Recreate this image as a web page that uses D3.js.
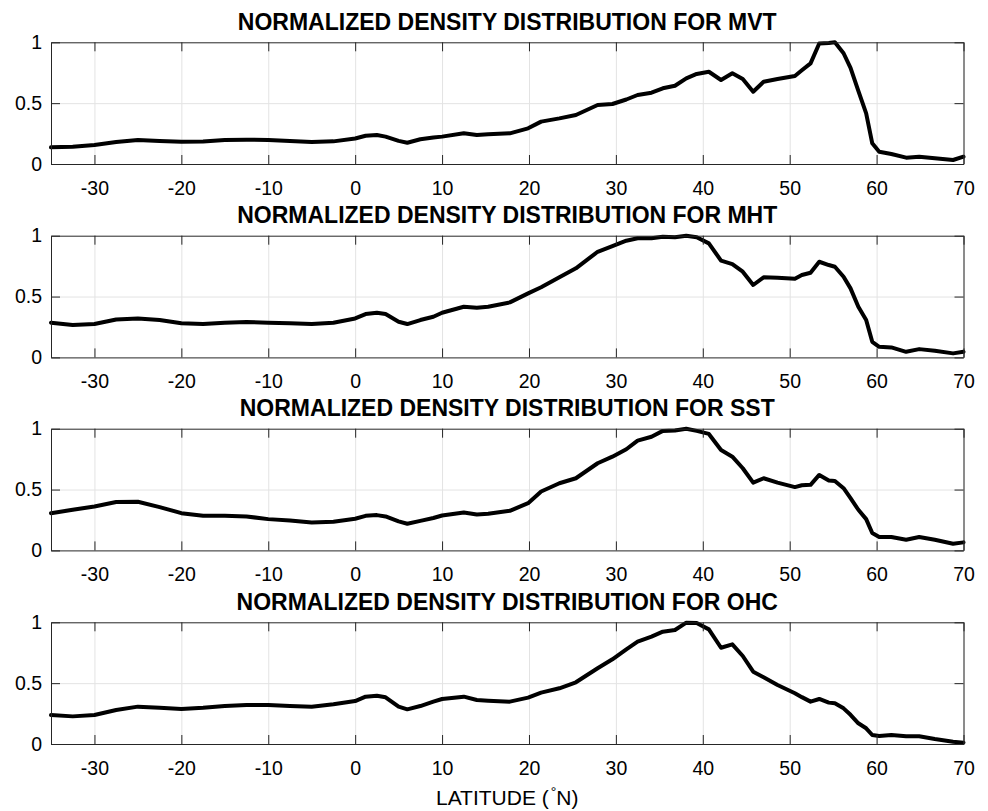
<!DOCTYPE html>
<html>
<head>
<meta charset="utf-8">
<script src="https://cdn.jsdelivr.net/npm/d3@7"></script>
<style>
  html, body { margin: 0; padding: 0; background: #fff; }
  svg { display: block; font-family: "Liberation Sans", Arial, Helvetica, sans-serif; }
</style>
</head>
<body>
<svg id="chart" width="988" height="811"></svg>
<script>
// ---- data ----
const latitude = [-35, -32.5, -30, -27.5, -25, -22.5, -20, -17.5, -15, -12.5, -10, -7.5, -5, -2.5, 0,
  1.2, 2.5, 3.5, 5, 6, 7.5, 9, 10, 12.5, 14, 15.3, 17.8, 19.9, 21.4, 23.5, 25.4, 27.9, 29.6, 31.2, 32.5,
  34.1, 35.4, 36.8, 38.1, 39.3, 40.7, 42.1, 43.4, 44.6, 45.8, 47.0, 48.6, 50.6, 51.4, 52.4, 53.4, 54.5,
  55.2, 56.2, 57.0, 57.9, 58.8, 59.5, 60.3, 61.7, 63.4, 64.9, 66.7, 68.8, 70];

const mvt = [.137, .142, .156, .18, .197, .19, .183, .185, .197, .2, .197, .19, .181, .186, .21,
  .232, .238, .225, .19, .175, .203, .218, .225, .252, .238, .244, .252, .293, .348, .375, .403, .485, .493, .53, .567,
  .586, .622, .643, .704, .74, .758, .69, .745, .698, .594, .676, .698, .723, .77, .827, .99, .995,
  1.0, .91, .79, .6, .416, .17, .1, .082, .052, .06, .047, .033, .06];

const mht = [.285, .266, .274, .312, .32, .307, .28, .274, .285, .29, .285, .28, .274, .285, .32,
  .356, .367, .356, .293, .274, .307, .334, .367, .416, .408, .416, .452, .526, .576, .658, .732, .868, .915, .959, .979,
  .979, .992, .987, 1.0, .987, .937, .795, .767, .704, .595, .658, .655, .647, .677, .696, .786, .759,
  .745, .663, .567, .416, .307, .128, .087, .082, .046, .068, .055, .033, .046];

const sst = [.306, .334, .361, .397, .40, .356, .306, .284, .284, .279, .257, .246, .23, .235, .26,
  .284, .29, .279, .238, .219, .243, .266, .287, .311, .295, .301, .325, .388, .484, .552, .593, .716, .77, .831, .902,
  .934, .982, .985, 1.0, .982, .957, .825, .77, .675, .557, .593, .557, .52, .535, .539, .62, .574,
  .571, .511, .43, .334, .257, .143, .11, .11, .087, .11, .087, .055, .066];

const ohc = [.238, .227, .238, .279, .307, .298, .288, .298, .312, .32, .32, .312, .307, .326, .353,
  .389, .397, .384, .307, .285, .312, .348, .37, .389, .362, .356, .348, .381, .422, .458, .507, .622, .696, .778, .841,
  .882, .923, .937, .997, .995, .942, .791, .819, .723, .594, .548, .485, .417, .385, .348, .37, .34,
  .334, .293, .24, .17, .129, .074, .066, .074, .063, .063, .041, .019, .011];

const seriesNames = ["MVT", "MHT", "SST", "OHC"];
const seriesValues = [mvt, mht, sst, ohc];
const xTicks = [-30, -20, -10, 0, 10, 20, 30, 40, 50, 60, 70];
const xTickLabels = ["-30", "-20", "-10", "0", "10", "20", "30", "40", "50", "60", "70"];
const yTicks = [0, 0.5, 1];
const yTickLabels = ["0", "0.5", "1"];
const titlePrefix = "NORMALIZED DENSITY DISTRIBUTION FOR ";
const xLabelMain = "LATITUDE (";
const xLabelDeg = "°";
const xLabelEnd = "N)";

// ---- layout ----
const svg = d3.select("#chart");
const left = 51, right = 963.5;
const panelTops = [42.3, 235.7, 428.7, 622.3];
const ph = 121.7;
const axisColor = "#262626";
const gridColor = "#e3e3e3";
const tickFont = 19.5;

const x = d3.scaleLinear().domain([-35, 70]).range([left, right]);

seriesNames.forEach((name, i) => {
  const top = panelTops[i];
  const y = d3.scaleLinear().domain([0, 1]).range([top + ph, top]);
  const g = svg.append("g");

  // grid
  const gx = g.append("g").attr("transform", `translate(0,${top + ph})`)
    .call(d3.axisBottom(x).tickValues(xTicks).tickSize(-ph).tickFormat(""));
  gx.select(".domain").remove();
  gx.selectAll("line").attr("stroke", gridColor).attr("stroke-width", 1);
  const gy = g.append("g").attr("transform", `translate(${left},0)`)
    .call(d3.axisLeft(y).tickValues([0.5]).tickSize(-(right - left)).tickFormat(""));
  gy.select(".domain").remove();
  gy.selectAll("line").attr("stroke", gridColor).attr("stroke-width", 1);

  // data line
  const line = d3.line()
    .x((d, k) => x(latitude[k]))
    .y(d => y(d))
    .curve(d3.curveLinear);
  g.append("path")
    .datum(seriesValues[i])
    .attr("d", line)
    .attr("fill", "none")
    .attr("stroke", "#000")
    .attr("stroke-width", 4)
    .attr("stroke-linejoin", "round")
    .attr("stroke-linecap", "round");

  // axes (inward ticks, full box)
  const styleAxis = (sel) => {
    sel.select(".domain").attr("stroke", axisColor).attr("stroke-width", 1);
    sel.selectAll(".tick line").attr("stroke", axisColor).attr("stroke-width", 1);
    sel.selectAll("text").attr("fill", "#000").attr("font-size", tickFont)
      .attr("font-family", "'Liberation Sans', Arial, Helvetica, sans-serif");
  };
  const xb = g.append("g").attr("transform", `translate(0,${top + ph})`)
    .call(d3.axisBottom(x).tickValues(xTicks).tickSizeInner(-9).tickSizeOuter(0).tickPadding(17.2)
      .tickFormat((d, k) => xTickLabels[k]));
  styleAxis(xb);
  const xt = g.append("g").attr("transform", `translate(0,${top})`)
    .call(d3.axisTop(x).tickValues(xTicks).tickSizeInner(-9).tickSizeOuter(0).tickFormat(""));
  styleAxis(xt);
  const yl = g.append("g").attr("transform", `translate(${left},0)`)
    .call(d3.axisLeft(y).tickValues(yTicks).tickSizeInner(-9).tickSizeOuter(0).tickPadding(9)
      .tickFormat((d, k) => yTickLabels[k]));
  styleAxis(yl);
  const yr = g.append("g").attr("transform", `translate(${right},0)`)
    .call(d3.axisRight(y).tickValues(yTicks).tickSizeInner(-9).tickSizeOuter(0).tickFormat(""));
  styleAxis(yr);

  // title
  g.append("text")
    .attr("x", (left + right) / 2)
    .attr("y", top - 12.5)
    .attr("text-anchor", "middle")
    .attr("font-size", 23)
    .attr("font-weight", "bold")
    .attr("fill", "#000")
    .text(titlePrefix + name);
});

// x label
const xl = svg.append("text")
  .attr("x", (left + right) / 2)
  .attr("y", 805)
  .attr("text-anchor", "middle")
  .attr("font-size", 21)
  .attr("fill", "#000");
xl.append("tspan").text(xLabelMain);
xl.append("tspan").attr("font-size", 14).attr("dx", 2).attr("dy", -8).text(xLabelDeg);
xl.append("tspan").attr("dy", 8).text(xLabelEnd);
</script>
</body>
</html>
